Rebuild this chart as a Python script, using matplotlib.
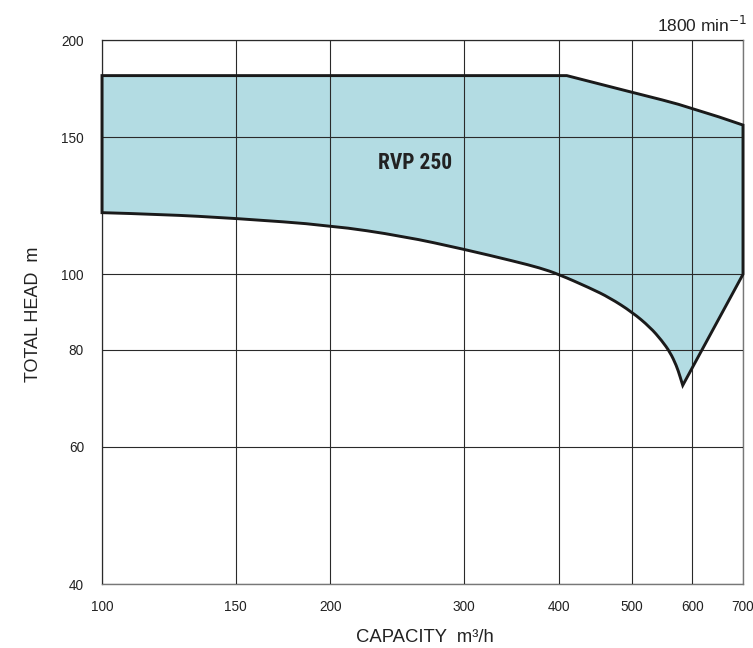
import matplotlib
matplotlib.use("Agg")
import matplotlib.pyplot as plt
from matplotlib.path import Path
from matplotlib.patches import PathPatch
from matplotlib.ticker import FixedLocator, FixedFormatter, NullLocator
import numpy as np

# ---- data ----
x_ticks = [100, 150, 200, 300, 400, 500, 600, 700]
y_ticks = [40, 60, 80, 100, 150, 200]

# upper flat limit
top_q = [100, 410]
top_h = [180, 180]

# upper right falling curve
upper_curve_q = [410, 500, 600, 700]
upper_curve_h = [180, 171.3, 163.8, 155.5]

# right vertical edge, then straight line down to the cusp
right_q = [700, 700, 583]
right_h = [155.5, 100, 72.0]

# lower curve (from cusp back to the left edge)
bottom_q = [583, 578, 572, 561, 547, 528, 500, 467, 440, 400, 378, 350, 300, 250, 200, 150, 120, 100]
bottom_h = [72.0, 74.0, 76.3, 79.4, 82.2, 85.5, 89.4, 93.3, 96.0, 100, 101.9, 103.9, 107.7, 111.9, 115.6, 118, 119.4, 120]

label_text = "RVP 250"
label_pos = (259, 139)


def smooth(q, h):
    """Quadratic Bezier through midpoints (in log space) of the given points."""
    lq, lh = np.log10(q), np.log10(h)
    verts, codes = [], []
    n = len(q)
    if n <= 2:
        verts.append((q[-1], h[-1])); codes.append(Path.LINETO)
        return verts, codes
    for i in range(1, n - 1):
        if i < n - 2:
            mq = 10 ** ((lq[i] + lq[i + 1]) / 2)
            mh = 10 ** ((lh[i] + lh[i + 1]) / 2)
        else:
            mq, mh = q[-1], h[-1]
        verts += [(q[i], h[i]), (mq, mh)]
        codes += [Path.CURVE3, Path.CURVE3]
    return verts, codes


verts = [(top_q[0], top_h[0]), (top_q[1], top_h[1])]
codes = [Path.MOVETO, Path.LINETO]
v, c = smooth(upper_curve_q, upper_curve_h)
verts += v; codes += c
for qq, hh in zip(right_q[1:], right_h[1:]):
    verts.append((qq, hh)); codes.append(Path.LINETO)
v, c = smooth(bottom_q, bottom_h)
verts += v; codes += c
verts.append((top_q[0], top_h[0])); codes.append(Path.CLOSEPOLY)
path = Path(verts, codes)

fig = plt.figure(figsize=(7.53, 6.48), dpi=100)
ax = fig.add_axes([102/753, 1-584/648, (743-102)/753, (584-40)/648])
ax.set_xscale("log")
ax.set_yscale("log")
ax.set_xlim(100, 700)
ax.set_ylim(40, 200)

ax.add_patch(PathPatch(path, facecolor="#b3dce3", edgecolor="none", zorder=1))
ax.add_patch(PathPatch(path, facecolor="none", edgecolor="#1a1a1a", lw=2.1,
                       joinstyle="miter", zorder=4, clip_on=False))

ax.xaxis.set_major_locator(FixedLocator(x_ticks))
ax.xaxis.set_major_formatter(FixedFormatter([str(v) for v in x_ticks]))
ax.xaxis.set_minor_locator(NullLocator())
ax.yaxis.set_major_locator(FixedLocator(y_ticks))
ax.yaxis.set_major_formatter(FixedFormatter([str(v) for v in y_ticks]))
ax.yaxis.set_minor_locator(NullLocator())

ax.set_axisbelow(False)
ax.grid(True, which="major", color="#2a2a2a", lw=0.8, zorder=2)
ax.tick_params(axis="both", length=0)
ax.tick_params(axis="x", pad=11.5)
ax.tick_params(axis="y", pad=13)
for lab in ax.get_xticklabels() + ax.get_yticklabels():
    lab.set_fontfamily("Liberation Sans")
    lab.set_fontsize(9.8)
    lab.set_color("#222222")

for s in ax.spines.values():
    s.set_color("#777777")
    s.set_linewidth(1.0)

ax.text(label_pos[0], label_pos[1], label_text, fontfamily="Roboto Condensed", fontweight="bold",
        fontsize=15.5, color="#222222", ha="center", va="center", zorder=5)

fig.text(425/753, 1-637/648, "CAPACITY  m³/h", fontfamily="Liberation Sans", fontsize=13.3,
         ha="center", va="center", color="#222222")
fig.text(33/753, 1-314/648, "TOTAL HEAD  m", fontfamily="Liberation Sans", fontsize=13,
         ha="center", va="center", rotation=90, color="#222222")
fig.text(747/753, 1-25/648, "1800 min$^{-1}$", fontfamily="Liberation Sans", fontsize=12.5,
         ha="right", va="center", color="#222222")

fig.savefig("out.png", dpi=100)
